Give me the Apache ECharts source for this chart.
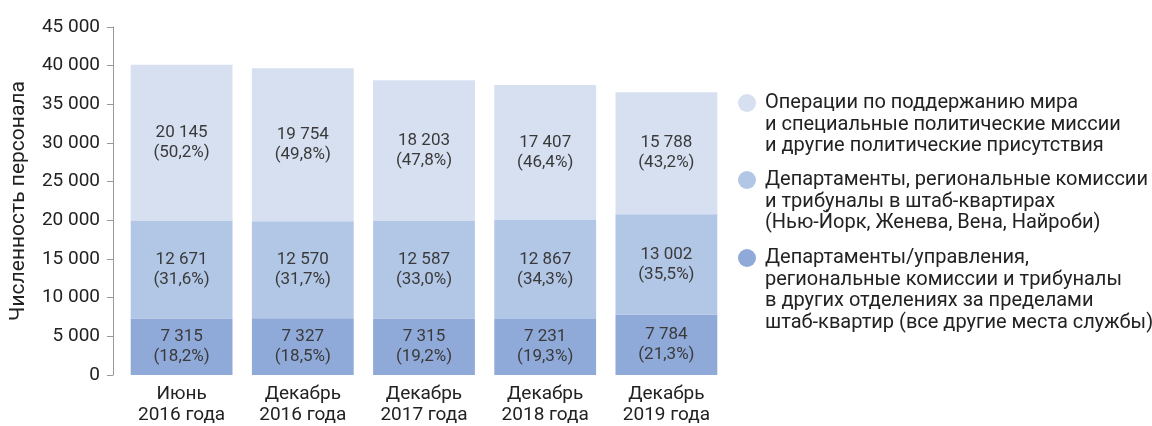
<!DOCTYPE html>
<html>
<head>
<meta charset="utf-8">
<script src="https://cdn.jsdelivr.net/npm/echarts@6/dist/echarts.min.js"></script>
<style>
html,body{margin:0;padding:0;background:#fff;}
#c{width:1152px;height:426px;}
</style>
</head>
<body>
<div id="c"></div>
<script>
const categories = ['Июнь\n2016 года','Декабрь\n2016 года','Декабрь\n2017 года','Декабрь\n2018 года','Декабрь\n2019 года'];
const bottomValues = [7315, 7327, 7315, 7231, 7784];
const bottomPct = ['18,2%','18,5%','19,2%','19,3%','21,3%'];
const middleValues = [12671, 12570, 12587, 12867, 13002];
const middlePct = ['31,6%','31,7%','33,0%','34,3%','35,5%'];
const topValues = [20145, 19754, 18203, 17407, 15788];
const topPct = ['50,2%','49,8%','47,8%','46,4%','43,2%'];
const totals = [40131, 39651, 38105, 37505, 36574];
const yTicks = [0,5000,10000,15000,20000,25000,30000,35000,40000,45000];
const seriesNames = [
  'Операции по поддержанию мира\nи специальные политические миссии\nи другие политические присутствия',
  'Департаменты, региональные комиссии\nи трибуналы в штаб-квартирах\n(Нью-Йорк, Женева, Вена, Найроби)',
  'Департаменты/управления,\nрегиональные комиссии и трибуналы\nв других отделениях за пределами\nштаб-квартир (все другие места службы)'
];
const yAxisName = 'Численность персонала';

const colors = ['#d6e0f1', '#b2c6e6', '#8fa9d9'];
const FONT = 'Roboto';
function fmt(n){ return String(n).replace(/\B(?=(\d{3})+(?!\d))/g, ' '); }

function segSeries(name, values, pcts, color){
  return {
    name: name, type: 'bar', stack: 'total', barWidth: '84%',
    data: values,
    itemStyle: {color: color},
    label: {
      show: true, position: 'inside',
      fontFamily: FONT, fontSize: 17, color: '#3a3a3a', lineHeight: 20,
      formatter: p => fmt(values[p.dataIndex]) + '\n(' + pcts[p.dataIndex] + ')'
    },
    emphasis: {disabled: true}
  };
}

const chart = echarts.init(document.getElementById('c'));

const legendGraphics = [];
const legendTops = [103, 180, 258];
seriesNames.forEach((n, i) => {
  legendGraphics.push({type:'circle', shape:{cx:747, cy:legendTops[i], r:9}, style:{fill: colors[i]}});
  legendGraphics.push({type:'text', x:765, y: legendTops[i] - 10.75,
    style:{text:n, fontFamily: FONT, fontSize: 20, fill:'#222', lineHeight:21.5, textVerticalAlign:'top'}});
});

chart.setOption({
  animation: false,
  grid: {left: 118, right: 425, top: 27, bottom: 49},
  xAxis: {
    type: 'category', data: categories,
    axisLine: {show: false}, axisTick: {show: false},
    axisLabel: {fontFamily: FONT, fontSize: 19, color: '#222', lineHeight: 21, margin: 9}
  },
  yAxis: {
    type: 'value', min: 0, max: 45000, interval: 5000, offset: 8,
    name: yAxisName, nameLocation: 'middle', nameGap: 84,
    nameTextStyle: {fontFamily: FONT, fontSize: 21, color: '#222'},
    axisLine: {show: true, lineStyle: {color: '#999', width: 1}},
    axisTick: {show: true, length: 6, lineStyle: {color: '#999'}},
    splitLine: {show: false},
    axisLabel: {fontFamily: FONT, fontSize: 19, color: '#222', margin: 13, formatter: v => fmt(v)}
  },
  series: [
    segSeries(seriesNames[2], bottomValues, bottomPct, colors[2]),
    segSeries(seriesNames[1], middleValues, middlePct, colors[1]),
    segSeries(seriesNames[0], topValues, topPct, colors[0]),
    {
      name: 'total', type: 'line', data: totals, symbol: 'none',
      lineStyle: {opacity: 0}, silent: true,
      label: {show: true, position: 'top', distance: 6, fontFamily: FONT, fontSize: 17, color: '#222',
        formatter: p => fmt(totals[p.dataIndex])}
    }
  ],
  graphic: legendGraphics
});
</script>
</body>
</html>
